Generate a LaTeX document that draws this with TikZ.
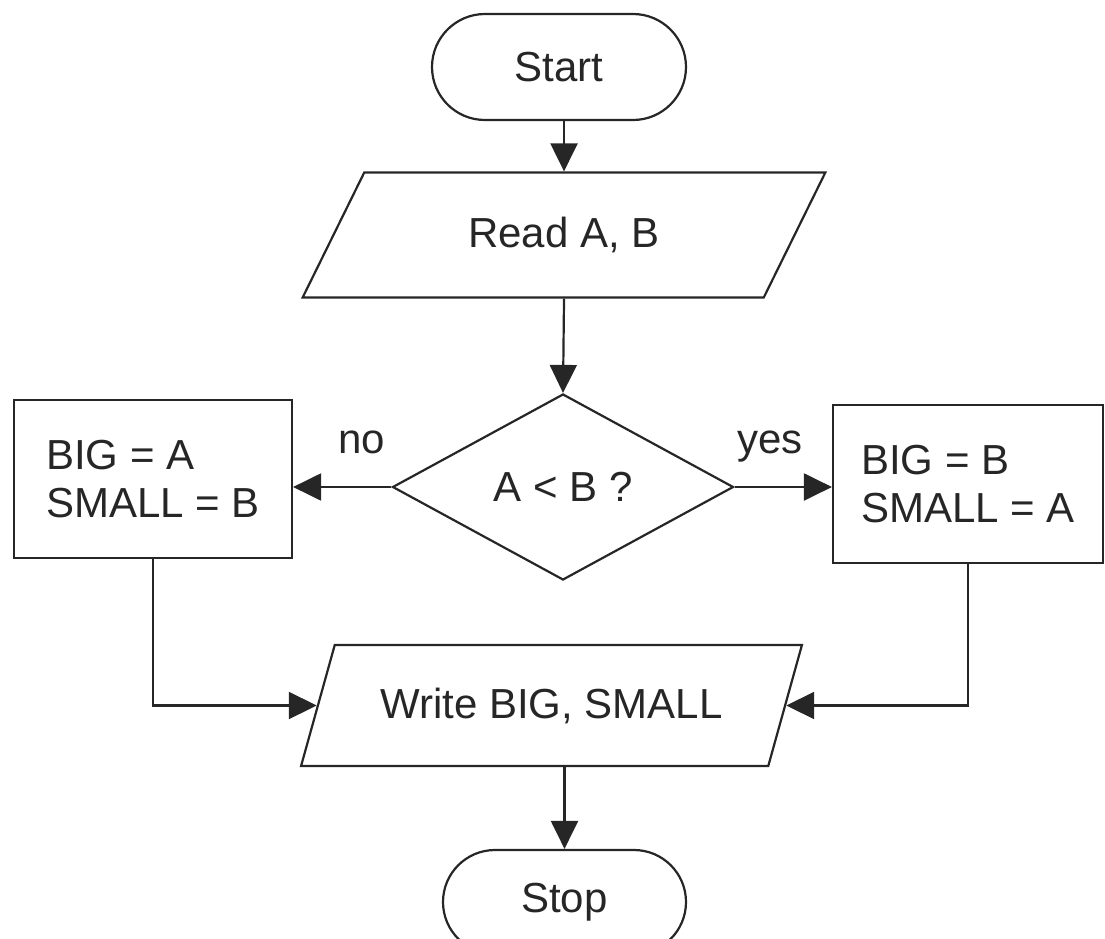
\documentclass[tikz,border=0pt]{standalone}
\usepackage{fontspec}
\setmainfont{Liberation Sans}
\usetikzlibrary{shapes.geometric,shapes.misc,arrows.meta}
\begin{document}
\begin{tikzpicture}[x=1pt,y=-1pt,
  every node/.style={font=\fontsize{42}{48}\selectfont, text=black!85},
  shp/.style={draw=black!85, line width=2.2pt, inner sep=0pt},
  term/.style={shp, rounded rectangle},
  io/.style={shp, trapezium, trapezium stretches=true},
  proc/.style={shp, rectangle, align=left},
  dec/.style={shp, diamond},
  arr/.style={draw=black!85, line width=2.2pt, -{Triangle[length=28pt,width=27pt]}},
  lbl/.style={inner sep=0pt, anchor=base}]
\clip (0,0) rectangle (1105,939);
\node[term, minimum width=254pt, minimum height=106pt] (start) at (559,67) {Start};
\node[io, trapezium left angle=50.5, trapezium right angle=129.5, minimum width=524pt, minimum height=125pt] (read) at (564,235) {Read A, B};
\node[dec, minimum width=341pt, minimum height=186pt, aspect=1.83] (cond) at (563,487) {A < B ?};
\node[proc, minimum width=278pt, minimum height=158pt] (lbox) at (153,479) {BIG = A\\SMALL = B};
\node[proc, minimum width=270pt, minimum height=158pt] (rbox) at (968,484) {BIG = B\\SMALL = A};
\node[io, trapezium left angle=53.4, trapezium right angle=126.6, minimum width=503pt, minimum height=121pt] (write) at (551.5,705.5) {Write BIG, SMALL};
\node[term, minimum width=243pt, minimum height=104pt] (stop) at (564.5,902) {Stop};
\node[lbl] (no) at (362,453) {no};
\node[lbl] (yes) at (770,453) {yes};
\draw[arr] (start.south -| read.north) -- (read.north);
\draw[arr] (read.south) -- (cond.north);
\draw[arr] (cond.west) -- (cond.west -| lbox.east);
\draw[arr] (cond.east) -- (cond.east -| rbox.west);
\draw[arr] (lbox.south) |- (write.left side);
\draw[arr] (rbox.south) |- (write.right side);
\draw[arr] (write.south -| stop.north) -- (stop.north);
\end{tikzpicture}
\end{document}
